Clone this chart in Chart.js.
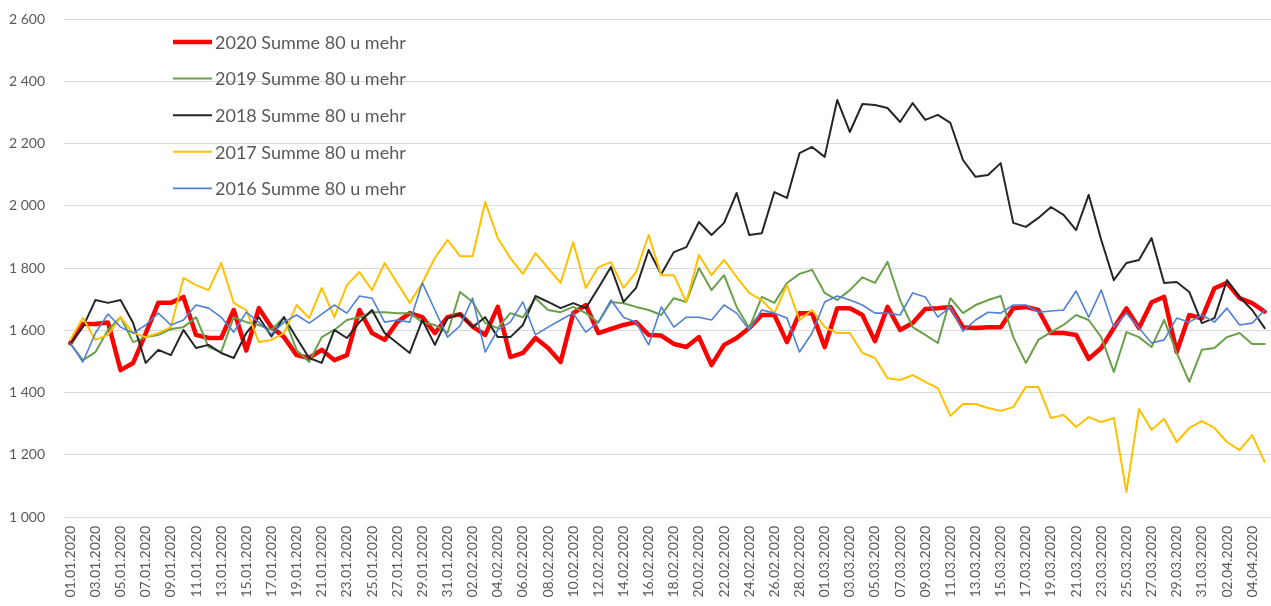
<!DOCTYPE html>
<html lang="de">
  <head>
    <meta charset="UTF-8" />
    <title>Summe 80 u mehr</title>
    <script src="https://cdnjs.cloudflare.com/ajax/libs/Chart.js/4.4.1/chart.umd.min.js"></script>
    <style>
      body { margin: 0; background: #fff; }
      #wrap { width: 1271px; height: 606px; }
    </style>
  </head>
  <body>
    <div id="wrap">
      <canvas id="sterbeChart" width="1271" height="606"></canvas>
    </div>

    <script>
      // Tage 01.01.2020 - 05.04.2020
      const tage = [
        "01.01.2020", "02.01.2020", "03.01.2020", "04.01.2020", "05.01.2020", "06.01.2020", "07.01.2020", "08.01.2020",
        "09.01.2020", "10.01.2020", "11.01.2020", "12.01.2020", "13.01.2020", "14.01.2020", "15.01.2020", "16.01.2020",
        "17.01.2020", "18.01.2020", "19.01.2020", "20.01.2020", "21.01.2020", "22.01.2020", "23.01.2020", "24.01.2020",
        "25.01.2020", "26.01.2020", "27.01.2020", "28.01.2020", "29.01.2020", "30.01.2020", "31.01.2020",
        "01.02.2020", "02.02.2020", "03.02.2020", "04.02.2020", "05.02.2020", "06.02.2020", "07.02.2020", "08.02.2020",
        "09.02.2020", "10.02.2020", "11.02.2020", "12.02.2020", "13.02.2020", "14.02.2020", "15.02.2020", "16.02.2020",
        "17.02.2020", "18.02.2020", "19.02.2020", "20.02.2020", "21.02.2020", "22.02.2020", "23.02.2020", "24.02.2020",
        "25.02.2020", "26.02.2020", "27.02.2020", "28.02.2020", "29.02.2020",
        "01.03.2020", "02.03.2020", "03.03.2020", "04.03.2020", "05.03.2020", "06.03.2020", "07.03.2020", "08.03.2020",
        "09.03.2020", "10.03.2020", "11.03.2020", "12.03.2020", "13.03.2020", "14.03.2020", "15.03.2020", "16.03.2020",
        "17.03.2020", "18.03.2020", "19.03.2020", "20.03.2020", "21.03.2020", "22.03.2020", "23.03.2020", "24.03.2020",
        "25.03.2020", "26.03.2020", "27.03.2020", "28.03.2020", "29.03.2020", "30.03.2020", "31.03.2020",
        "01.04.2020", "02.04.2020", "03.04.2020", "04.04.2020", "05.04.2020",
      ];

      const summe2020 = [
        1558, 1620, 1620, 1625, 1472, 1495, 1590, 1688, 1688, 1707,
        1585, 1575, 1575, 1665, 1535, 1671, 1610, 1578, 1520, 1511,
        1537, 1504, 1520, 1665, 1591, 1569, 1626, 1655, 1642, 1591,
        1642, 1652, 1612, 1585, 1675, 1514, 1527, 1575, 1543, 1498,
        1655, 1681, 1591, 1604, 1617, 1626, 1585, 1583, 1556, 1546,
        1578, 1488, 1553, 1575, 1607, 1649, 1649, 1562, 1655, 1655,
        1546, 1671, 1671, 1649, 1565, 1675, 1601, 1623, 1668, 1671,
        1675, 1610, 1607, 1610, 1610, 1671, 1675, 1665, 1591, 1591,
        1585, 1508, 1543, 1607, 1670, 1607, 1690, 1707, 1530, 1649,
        1638, 1735, 1752, 1703, 1687, 1660,
      ];

      const summe2019 = [
        1558, 1504, 1530, 1601, 1642, 1562, 1578, 1585, 1604, 1610,
        1642, 1546, 1530, 1642, 1626, 1617, 1601, 1642, 1537, 1498,
        1578, 1601, 1633, 1642, 1658, 1658, 1655, 1655, 1626, 1617,
        1591, 1723, 1691, 1623, 1607, 1655, 1642, 1703, 1665, 1658,
        1675, 1655, 1625, 1691, 1687, 1675, 1665, 1649, 1703, 1691,
        1800, 1729, 1777, 1675, 1607, 1707, 1688, 1752, 1781, 1794,
        1720, 1697, 1729, 1770, 1752, 1820, 1697, 1610, 1585, 1559,
        1703, 1655, 1681, 1697, 1710, 1578, 1495, 1569, 1594, 1617,
        1649, 1633, 1578, 1466, 1594, 1578, 1546, 1633, 1527, 1434,
        1537, 1543, 1578, 1591, 1556, 1556,
      ];

      const summe2018 = [
        1558, 1610, 1697, 1688, 1697, 1623, 1495, 1537, 1520, 1601,
        1543, 1553, 1527, 1511, 1591, 1642, 1580, 1642, 1575, 1511,
        1495, 1601, 1575, 1626, 1665, 1591, 1559, 1527, 1633, 1553,
        1639, 1652, 1610, 1642, 1578, 1578, 1617, 1710, 1691, 1671,
        1687, 1671, 1736, 1803, 1691, 1736, 1858, 1780, 1851, 1867,
        1948, 1906, 1945, 2041, 1906, 1912, 2044, 2025, 2169, 2189,
        2157, 2340, 2237, 2327, 2324, 2314, 2269, 2330, 2276, 2292,
        2266, 2147, 2093, 2099, 2137, 1945, 1932, 1961, 1996, 1971,
        1922, 2035, 1890, 1761, 1816, 1826, 1896, 1752, 1755, 1723,
        1623, 1639, 1761, 1707, 1665, 1607,
      ];

      const summe2017 = [
        1569, 1639, 1569, 1585, 1642, 1591, 1578, 1591, 1610, 1768,
        1745, 1729, 1816, 1688, 1665, 1562, 1569, 1591, 1681, 1639,
        1736, 1642, 1745, 1787, 1729, 1816, 1752, 1688, 1752, 1832,
        1890, 1838, 1838, 2012, 1896, 1832, 1781, 1848, 1800, 1752,
        1883, 1736, 1803, 1819, 1736, 1787, 1906, 1777, 1777, 1691,
        1842, 1777, 1826, 1771, 1720, 1697, 1655, 1745, 1633, 1665,
        1610, 1591, 1591, 1527, 1511, 1446, 1440, 1456, 1434, 1414,
        1325, 1363, 1363, 1350, 1341, 1353, 1418, 1418, 1318, 1328,
        1289, 1321, 1305, 1318, 1080, 1347, 1280, 1315, 1241, 1286,
        1308, 1286, 1241, 1215, 1263, 1177,
      ];

      const summe2016 = [
        1558, 1498, 1591, 1652, 1610, 1591, 1617, 1655, 1617, 1633,
        1681, 1671, 1642, 1594, 1658, 1625, 1588, 1626, 1649, 1623,
        1652, 1681, 1655, 1710, 1703, 1626, 1633, 1626, 1752, 1665,
        1578, 1614, 1703, 1530, 1601, 1626, 1691, 1585, 1610, 1633,
        1655, 1594, 1626, 1697, 1642, 1626, 1553, 1675, 1610, 1642,
        1642, 1633, 1681, 1655, 1601, 1665, 1655, 1639, 1530, 1591,
        1691, 1710, 1697, 1681, 1655, 1655, 1649, 1720, 1707, 1642,
        1675, 1597, 1633, 1658, 1655, 1681, 1681, 1658, 1662, 1665,
        1726, 1642, 1729, 1610, 1655, 1607, 1559, 1569, 1639, 1626,
        1649, 1626, 1671, 1617, 1623, 1665,
      ];

      const yTicks = [1000, 1200, 1400, 1600, 1800, 2000, 2200, 2400, 2600];

      const textFarbe = "#595959";
      const schrift = "Lato, 'Open Sans', sans-serif";

      function tausender(v) {
        return String(v).replace(/\B(?=(\d{3})+(?!\d))/g, " ");
      }

      function serie(label, data, farbe, breite, order) {
        return {
          label: label,
          data: data,
          borderColor: farbe,
          backgroundColor: farbe,
          borderWidth: breite,
          pointRadius: 0,
          tension: 0,
          borderJoinStyle: "round",
          borderCapStyle: "round",
          order: order,
        };
      }

      // Legende innerhalb der Zeichenfläche, wie im Original
      const legendeInnen = {
        id: "legendeInnen",
        afterDraw(chart) {
          const ctx = chart.ctx;
          ctx.save();
          ctx.font = "18px " + schrift;
          ctx.textBaseline = "middle";
          chart.data.datasets.forEach((ds, i) => {
            const y = 42 + i * 36.6;
            ctx.strokeStyle = ds.borderColor;
            ctx.lineWidth = ds.borderWidth;
            ctx.beginPath();
            ctx.moveTo(173, y);
            ctx.lineTo(212, y);
            ctx.stroke();
            ctx.fillStyle = textFarbe;
            ctx.fillText(ds.label, 215, y + 1);
          });
          ctx.restore();
        },
      };

      const ctx = document.getElementById("sterbeChart").getContext("2d");
      new Chart(ctx, {
        type: "line",
        data: {
          labels: tage,
          datasets: [
            serie("2020 Summe 80 u mehr", summe2020, "#FF0000", 4.5, 5),
            serie("2019 Summe 80 u mehr", summe2019, "#6A9F4B", 2, 4),
            serie("2018 Summe 80 u mehr", summe2018, "#262626", 2, 3),
            serie("2017 Summe 80 u mehr", summe2017, "#FFC000", 2, 2),
            serie("2016 Summe 80 u mehr", summe2016, "#4F80D6", 1.6, 1),
          ],
        },
        options: {
          responsive: false,
          animation: false,
          layout: { padding: { top: 19, left: 0, right: 0, bottom: 0 } },
          plugins: {
            legend: { display: false },
            tooltip: { enabled: false },
          },
          scales: {
            x: {
              offset: true,
              grid: { display: false, drawTicks: false },
              border: { display: false },
              afterFit: (scale) => {
                scale.height = 89;
                scale.paddingLeft = 0;
                scale.paddingRight = 0;
              },
              ticks: {
                autoSkip: false,
                minRotation: 90,
                maxRotation: 90,
                padding: 9,
                color: textFarbe,
                font: { family: schrift, size: 14 },
                callback: function (value, index) {
                  return index % 2 === 0 ? tage[index] : "";
                },
              },
            },
            y: {
              min: yTicks[0],
              max: yTicks[yTicks.length - 1],
              afterFit: (scale) => {
                scale.width = 64;
                scale.paddingTop = 0;
                scale.paddingBottom = 0;
              },
              afterBuildTicks: (scale) => {
                scale.ticks = yTicks.map((v) => ({ value: v }));
              },
              grid: { color: "#d9d9d9", lineWidth: 1, drawTicks: false },
              border: { display: false },
              ticks: {
                padding: 19,
                color: textFarbe,
                font: { family: schrift, size: 14 },
                callback: (v) => tausender(v),
              },
            },
          },
        },
        plugins: [legendeInnen],
      });
    </script>
  </body>
</html>
